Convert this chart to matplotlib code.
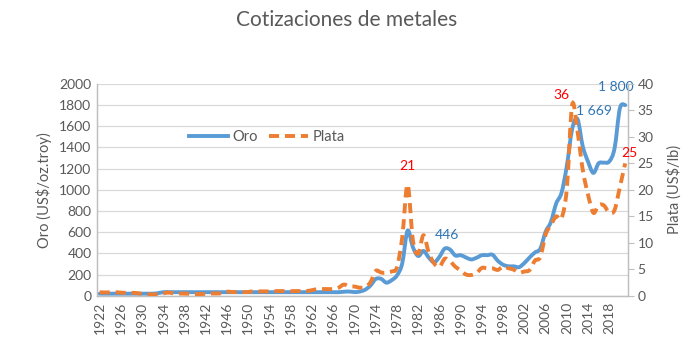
import numpy as np
import matplotlib.pyplot as plt
from matplotlib.path import Path
from matplotlib.patches import PathPatch
from matplotlib.lines import Line2D

plt.rcParams['font.family'] = ['Lato', 'DejaVu Sans']

years = list(range(1922, 2022))

# oro, US$/oz troy (promedio anual)
oro = ([21] * 11 + [26] + [35] * 34 +
       [39, 41, 36, 41, 58, 97, 159, 161, 125, 148,
        193, 307, 615, 460, 376, 424, 361, 317, 368, 446,
        437, 381, 384, 362, 344, 360, 384, 384, 388, 331,
        294, 279, 279, 271, 310, 363, 410, 445, 604, 697,
        872, 972, 1225, 1572, 1669, 1411, 1266, 1160, 1251, 1257,
        1268, 1393, 1770, 1800])

# plata (promedio anual)
plata = [0.68, 0.65, 0.67, 0.69, 0.62, 0.57, 0.58, 0.53, 0.38, 0.29,
         0.28, 0.35, 0.48, 0.64, 0.45, 0.45, 0.43, 0.39, 0.35, 0.35,
         0.38, 0.45, 0.45, 0.52, 0.80, 0.72, 0.74, 0.72, 0.74, 0.89,
         0.85, 0.85, 0.85, 0.89, 0.91, 0.90, 0.89, 0.91, 0.91, 0.92,
         1.08, 1.28, 1.29, 1.29, 1.29, 1.55, 2.14, 1.79, 1.77, 1.55,
         1.68, 2.56, 4.71, 4.42, 4.35, 4.62, 5.40, 11.09, 21.0, 10.52,
         7.95, 11.44, 8.14, 6.14, 5.47, 7.01, 6.53, 5.50, 4.82, 4.04,
         3.94, 4.30, 5.28, 5.20, 5.20, 4.90, 5.54, 5.22, 4.95, 4.37,
         4.60, 4.88, 6.67, 7.32, 11.55, 13.38, 14.99, 14.67, 20.19, 36.0,
         31.15, 23.79, 19.08, 15.68, 17.14, 17.05, 15.71, 16.21, 20.55, 25.0]

# valores rotulados: (año, desplazamiento en px)
etiquetas_oro = [(1987, (2, 14)), (2012, (17, 8)), (2021, (-9, 18))]
etiquetas_plata = [(1980, (0, 19)), (2011, (-11, 10)), (2021, (4, 10))]

gris = '#595959'
azul = '#5b9bd5'
naranja = '#ed7d31'


def curva_suave(xs, ys):
    # línea suavizada tipo Excel: bezier cúbica que pasa por cada punto
    p = np.column_stack([xs, ys]).astype(float)
    verts = [p[0]]
    codes = [Path.MOVETO]
    n = len(p)
    for i in range(n - 1):
        p0 = p[i - 1] if i > 0 else p[i]
        p1, p2 = p[i], p[i + 1]
        p3 = p[i + 2] if i + 2 < n else p[i + 1]
        verts += [p1 + (p2 - p0) / 6, p2 - (p3 - p1) / 6, p2]
        codes += [Path.CURVE4] * 3
    return Path(verts, codes)


x = np.arange(len(years))

fig = plt.figure(figsize=(6.93, 3.51), dpi=100)
ax = fig.add_axes([0.140, 0.157, 0.766, 0.604])
ax2 = ax.twinx()

ax.add_patch(PathPatch(curva_suave(x, oro), fill=False, edgecolor=azul,
                       linewidth=2.8, capstyle='round', joinstyle='round',
                       zorder=3))
ax2.add_patch(PathPatch(curva_suave(x, plata), fill=False, edgecolor=naranja,
                        linewidth=2.8, linestyle=(0, (2.6, 1.5)),
                        capstyle='butt', zorder=3))

ax.set_xlim(-0.5, len(years) - 0.5)
ax.set_ylim(0, 2000)
ax.set_yticks(range(0, 2001, 200))
ax2.set_ylim(0, 40)
ax2.set_yticks(range(0, 41, 5))

ax.set_xticks(x[::4])
ax.set_xticklabels([str(y) for y in years[::4]], rotation=90)

ax.grid(axis='y', color='#d9d9d9', linewidth=0.9)
ax.set_axisbelow(True)

for a in (ax, ax2):
    for s in a.spines.values():
        s.set_color('#bfbfbf')
        s.set_linewidth(0.9)
    a.spines['top'].set_visible(False)
    a.tick_params(colors=gris, labelsize=10)
ax.tick_params(axis='both', length=0, pad=4)
ax2.tick_params(axis='y', length=4, color='#bfbfbf', pad=3)

ax.set_ylabel('Oro (US$/oz.troy)', color=gris, fontsize=10.5, labelpad=5)
ax2.set_ylabel('Plata (US$/lb)', color=gris, fontsize=10.5, rotation=90,
               labelpad=9)

fig.text(0.5, 1 - 20 / 351, 'Cotizaciones de metales', ha='center',
         va='center', color=gris, fontsize=15)

for anio, off in etiquetas_oro:
    i = years.index(anio)
    v = oro[i]
    ax.annotate(f'{v:,.0f}'.replace(',', ' '), (i, v), xytext=off,
                textcoords='offset pixels', ha='center', va='center',
                color='#2e75b6', fontsize=10)
for anio, off in etiquetas_plata:
    i = years.index(anio)
    v = plata[i]
    ax2.annotate(f'{v:.0f}', (i, v), xytext=off,
                 textcoords='offset pixels', ha='center', va='center',
                 color='#ff0000', fontsize=10)

h_oro = Line2D([], [], color=azul, linewidth=2.8, label='Oro')
h_plata = Line2D([], [], color=naranja, linewidth=2.8, dashes=(2.6, 1.5),
                 label='Plata')
fig.legend(handles=[h_oro, h_plata], loc='center',
           bbox_to_anchor=(0.385, 0.610), ncol=2, frameon=False,
           fontsize=10.5, labelcolor=gris, handlelength=2.7,
           handletextpad=0.3, columnspacing=0.7)

fig.savefig('out.png', dpi=100)
